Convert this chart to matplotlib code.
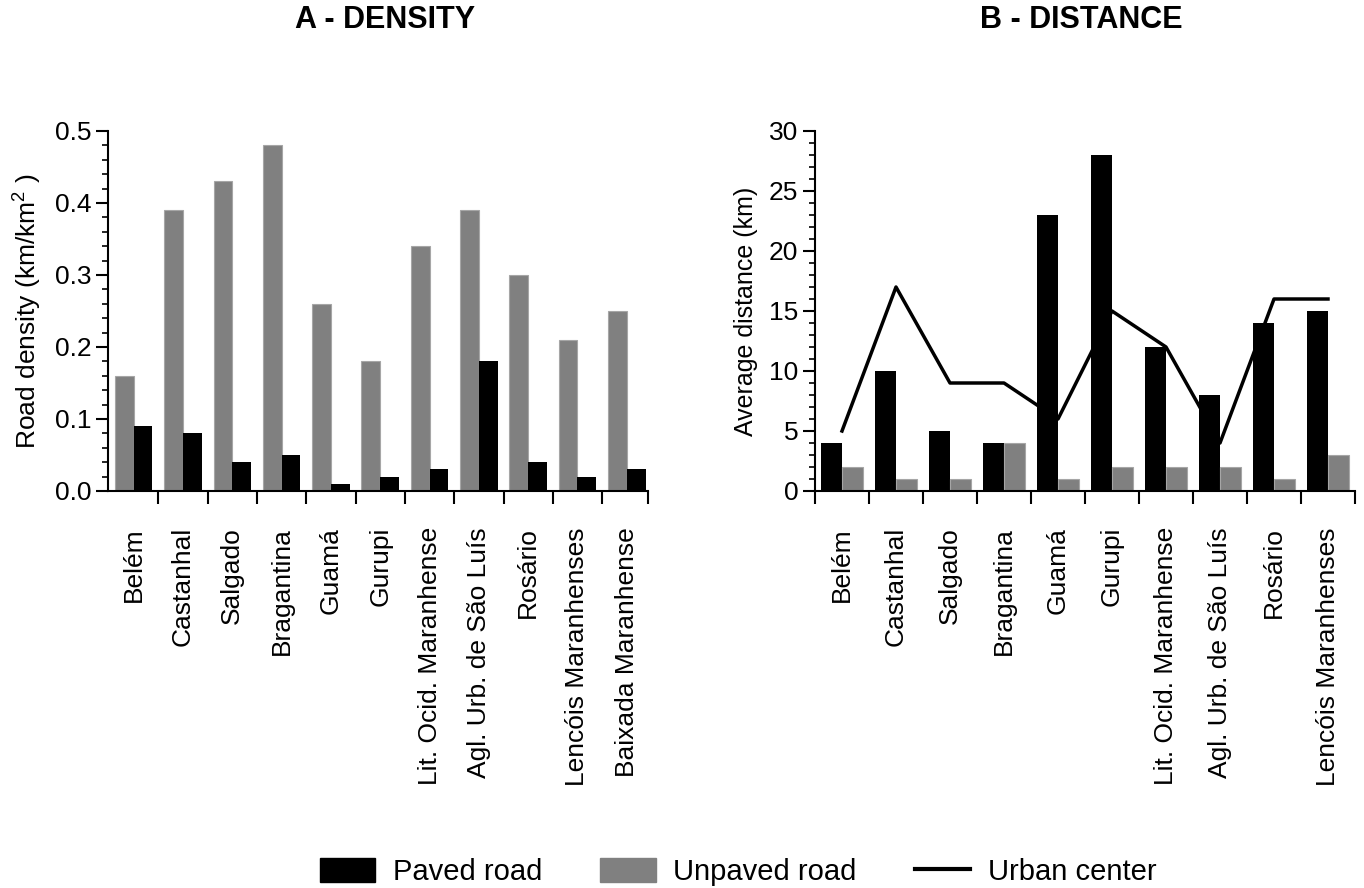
import numpy as np
import matplotlib
matplotlib.use("Agg")
from matplotlib import pyplot as plt
from matplotlib.patches import Patch
from matplotlib.lines import Line2D
from matplotlib.ticker import MultipleLocator, FormatStrFormatter

plt.rcParams['font.family'] = ['Liberation Sans', 'DejaVu Sans']
plt.rcParams['mathtext.default'] = 'regular'

# density panel
regions_a = ["Belém", "Castanhal", "Salgado", "Bragantina", "Guamá", "Gurupi",
             "Lit. Ocid. Maranhense", "Agl. Urb. de São Luís", "Rosário",
             "Lencóis Maranhenses", "Baixada Maranhense"]
unpaved_density = [0.16, 0.39, 0.43, 0.48, 0.26, 0.18, 0.34, 0.39, 0.30, 0.21, 0.25]
paved_density = [0.09, 0.08, 0.04, 0.05, 0.01, 0.02, 0.03, 0.18, 0.04, 0.02, 0.03]

# distance panel
regions_b = ["Belém", "Castanhal", "Salgado", "Bragantina", "Guamá", "Gurupi",
             "Lit. Ocid. Maranhense", "Agl. Urb. de São Luís", "Rosário",
             "Lencóis Maranhenses"]
paved_dist = [4, 10, 5, 4, 23, 28, 12, 8, 14, 15]
unpaved_dist = [2, 1, 1, 4, 1, 2, 2, 2, 1, 3]
urban_dist = [5, 17, 9, 9, 6, 15, 12, 4, 16, 16]

BLACK = "#000000"
GRAY = "#808080"
w = 0.38

fig = plt.figure(figsize=(13.64, 8.88), dpi=100)
ax1 = fig.add_axes([108/1364, 1-491/888, 540/1364, 360/888])
ax2 = fig.add_axes([815/1364, 1-491/888, 540/1364, 360/888])


def style_axis(ax):
    for s in ["top", "right"]:
        ax.spines[s].set_visible(False)
    for s in ["left", "bottom"]:
        ax.spines[s].set_linewidth(1.5)
    ax.tick_params(axis="y", which="major", length=9, width=1.5, pad=3, labelsize=19)
    ax.tick_params(axis="y", which="minor", length=4.5, width=1.2)
    ax.tick_params(axis="x", which="major", length=9, width=1.5, labelbottom=False)
    ax.tick_params(axis="x", which="minor", length=0, pad=26, labelsize=19)


# A - density
x = np.arange(len(regions_a))
ax1.bar(x - w/2, unpaved_density, w, color=GRAY, edgecolor="#a6a6a6", linewidth=0.8)
ax1.bar(x + w/2, paved_density, w, color=BLACK)
ax1.set_xlim(-0.52, 10.43)
ax1.set_ylim(0, 0.5)
ax1.set_xticks(np.append(np.arange(10) + 0.5, 10.43))
ax1.set_xticks(x, minor=True)
ax1.set_xticklabels(regions_a, minor=True, rotation=90, va="top", ha="center")
ax1.yaxis.set_major_locator(MultipleLocator(0.1))
ax1.yaxis.set_minor_locator(MultipleLocator(0.02))
ax1.yaxis.set_major_formatter(FormatStrFormatter("%.1f"))
ax1.set_ylabel("Road density (km/km$^{2}$ )", fontsize=19, labelpad=8)
style_axis(ax1)

# B - distance (line sits behind the bars)
xb = np.arange(len(regions_b))
ax2.plot(xb, urban_dist, color=BLACK, linewidth=2.5, zorder=1)
ax2.bar(xb - w/2, paved_dist, w, color=BLACK, zorder=2)
ax2.bar(xb + w/2, unpaved_dist, w, color=GRAY, edgecolor="#a6a6a6", linewidth=0.8, zorder=2)
ax2.set_xlim(-0.5, 9.5)
ax2.set_ylim(0, 30)
ax2.set_xticks(np.arange(11) - 0.5)
ax2.set_xticks(xb, minor=True)
ax2.set_xticklabels(regions_b, minor=True, rotation=90, va="top", ha="center")
ax2.yaxis.set_major_locator(MultipleLocator(5))
ax2.yaxis.set_minor_locator(MultipleLocator(1))
ax2.set_ylabel("Average distance (km)", fontsize=18, labelpad=8)
style_axis(ax2)

fig.text(385/1364, 1-20/888, "A - DENSITY", fontsize=22, fontweight="bold",
         ha="center", va="center")
fig.text(1081/1364, 1-20/888, "B - DISTANCE", fontsize=22, fontweight="bold",
         ha="center", va="center")

handles = [Patch(facecolor=BLACK, edgecolor=BLACK),
           Patch(facecolor=GRAY, edgecolor=GRAY),
           Line2D([0], [0], color=BLACK, linewidth=3)]
fig.legend(handles, ["Paved road", "Unpaved road", "Urban center"],
           loc="center", bbox_to_anchor=(738/1364, 1-872/888), ncol=3,
           frameon=False, fontsize=21, handlelength=1.9, handleheight=0.9,
           handletextpad=0.6, columnspacing=2.0)

fig.savefig("out.png", dpi=100)
